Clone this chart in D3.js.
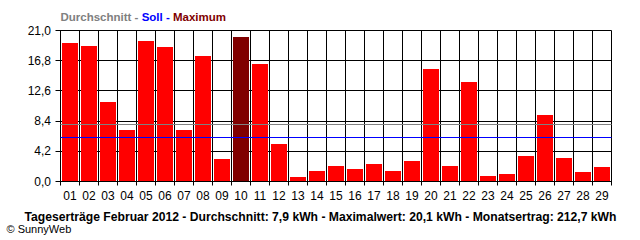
<!DOCTYPE html>
<html><head><meta charset="utf-8">
<script src="https://cdn.jsdelivr.net/npm/d3@7"></script>
<style>body{margin:0;background:#fff}svg{display:block}</style>
</head><body>
<svg id="c" width="640" height="240"></svg>
<script>
const days = ["01","02","03","04","05","06","07","08","09","10","11","12","13","14","15","16","17","18","19","20","21","22","23","24","25","26","27","28","29"];
const yields = [19.3,18.9,11.0,7.2,19.5,18.7,7.1,17.5,3.1,20.1,16.3,5.2,0.6,1.4,2.1,1.8,2.4,1.5,2.8,15.6,2.1,13.8,0.8,1.0,3.5,9.2,3.2,1.3,2.0];
const yTicks = [0, 4.2, 8.4, 12.6, 16.8, 21.0];
const average = 7.9;
const target = 6.1;
const legendParts = [["Durchschnitt","#808080"],[" - ","#808080"],["Soll","#0000ff"],[" - ","#0000ff"],["Maximum","#800000"]];
const footer = "Tageserträge Februar 2012 - Durchschnitt: 7,9 kWh - Maximalwert: 20,1 kWh - Monatsertrag: 212,7 kWh";
const credit = "© SunnyWeb";

(function () {
const svg = d3.select("#c");
const pL = 60.5, pR = 611.5, pT = 30.5, pB = 181.5;
const x = d3.scaleBand().domain(days).range([pL, pR]).padding(0);
const y = d3.scaleLinear().domain([0, 21]).range([pB, pT]);
const maxVal = d3.max(yields);
const font = "'Liberation Sans', Arial, sans-serif";
const snap = v => Math.round(v - 0.5) + 0.5;

// horizontal grid
svg.append("g").selectAll("line").data(yTicks).join("line")
  .attr("x1", pL - 5).attr("x2", pR)
  .attr("y1", d => snap(y(d))).attr("y2", d => snap(y(d)))
  .attr("stroke", "#000").attr("stroke-width", 1);
// vertical grid
const bounds = days.map(d => x(d)).concat([pR]);
svg.append("g").selectAll("line").data(bounds).join("line")
  .attr("x1", d => snap(d)).attr("x2", d => snap(d))
  .attr("y1", pT).attr("y2", pB + 4)
  .attr("stroke", "#000").attr("stroke-width", 1);

// bars
svg.append("g").selectAll("rect").data(yields).join("rect")
  .attr("x", (d, i) => Math.round(x(days[i]) + 1.5))
  .attr("width", Math.round(x.bandwidth() - 3))
  .attr("y", d => Math.round(y(d)))
  .attr("height", d => pB - 0.5 - Math.round(y(d)))
  .attr("fill", d => d === maxVal ? "#800000" : "#ff0000");

// average and target lines
[[average, "#808080"], [target, "#0000ff"]].forEach(([v, c]) => {
  const yy = snap(y(v));
  svg.append("line").attr("x1", pL).attr("x2", pR).attr("y1", yy).attr("y2", yy)
    .attr("stroke", c).attr("stroke-width", 1);
});

// y labels
svg.append("g").selectAll("text").data(yTicks).join("text")
  .attr("x", 51).attr("y", d => y(d) + 4)
  .attr("text-anchor", "end").attr("font-family", font).attr("font-size", 12)
  .text(d => d.toFixed(1).replace(".", ","));
// x labels
svg.append("g").selectAll("text").data(days).join("text")
  .attr("x", d => x(d) + x.bandwidth() / 2).attr("y", 200)
  .attr("text-anchor", "middle").attr("font-family", font).attr("font-size", 12)
  .text(d => d);

// legend title
const t = svg.append("text").attr("x", 60.5).attr("y", 20.5)
  .attr("font-family", font).attr("font-weight", "bold").attr("font-size", 11.5);
legendParts.forEach(([s, c]) => t.append("tspan").attr("fill", c).text(s));

// footer
svg.append("text").attr("x", 24.5).attr("y", 221)
  .attr("font-family", font).attr("font-weight", "bold").attr("font-size", 12.5)
  .attr("textLength", 592).attr("lengthAdjust", "spacingAndGlyphs")
  .text(footer);
svg.append("text").attr("x", 6.5).attr("y", 233)
  .attr("font-family", font).attr("font-size", 11)
  .text(credit);
})();
</script>
</body></html>
